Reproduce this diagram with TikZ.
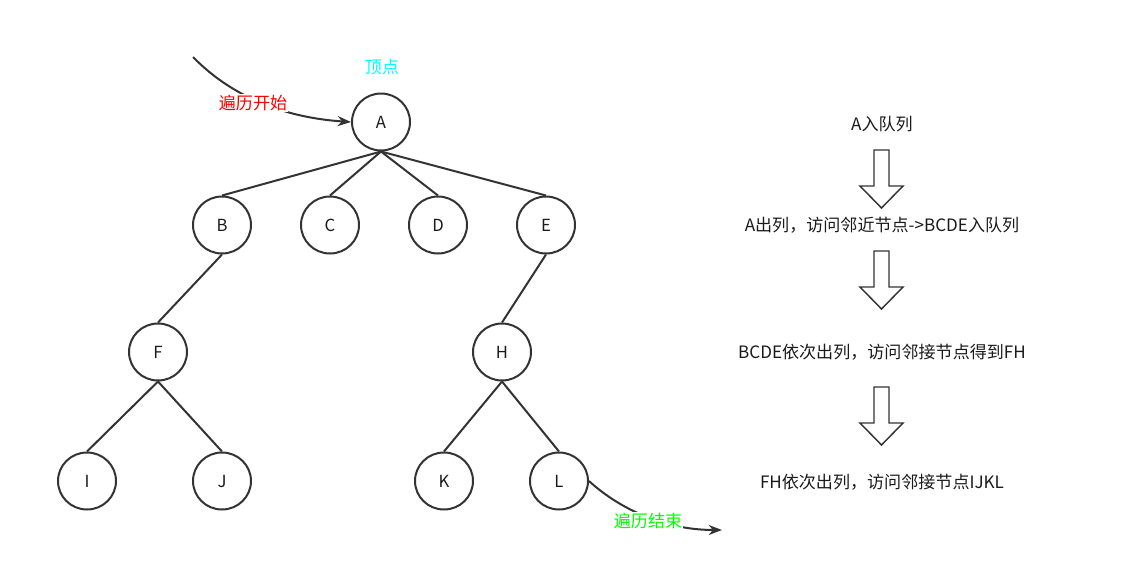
\documentclass[tikz,border=0pt]{standalone}
\usepackage{fontspec}
\setmainfont{Noto Sans CJK SC}
\usetikzlibrary{arrows.meta,shapes.geometric}
\definecolor{linec}{HTML}{333333}
\definecolor{txtc}{HTML}{1A1A1A}
\definecolor{cyanc}{HTML}{00FFFF}
\definecolor{redc}{HTML}{FF0000}
\definecolor{greenc}{HTML}{00FF00}
\begin{document}
\begin{tikzpicture}[x=0.75pt,y=-0.75pt,
  vert/.style={ellipse,draw=linec,line width=1.5pt,minimum width=43.5pt,minimum height=42.75pt,inner sep=0pt,font=\fontsize{12.5}{14}\selectfont,text=txtc},
  tree/.style={draw=linec,line width=1.5pt},
  lbl/.style={font=\fontsize{12.8}{15}\selectfont,text=txtc,inner sep=1pt},
  hollow/.style={draw=linec,line width=1.1pt,line join=miter,fill=white},
  flow/.style={draw=linec,line width=1.5pt,-{Stealth[length=10pt,width=7.5pt]}}]
\useasboundingbox (0,0) rectangle (1133,579);
% tree nodes
\node[vert] (A) at (381,122) {A};
\node[vert] (B) at (222,225) {B};
\node[vert] (C) at (330,225) {C};
\node[vert] (D) at (438,225) {D};
\node[vert] (E) at (546,225) {E};
\node[vert] (F) at (158,352) {F};
\node[vert] (H) at (502,352) {H};
\node[vert] (I) at (87,481) {I};
\node[vert] (J) at (222,481) {J};
\node[vert] (K) at (444,481) {K};
\node[vert] (L) at (559,481) {L};
% edges
\foreach \c in {B,C,D,E} \draw[tree] (A.south) -- (\c.north);
\draw[tree] (B.south) -- (F.north);
\draw[tree] (E.south) -- (H.north);
\draw[tree] (F.south) -- (I.north);
\draw[tree] (F.south) -- (J.north);
\draw[tree] (H.south) -- (K.north);
\draw[tree] (H.south) -- (L.north);
% labels
\node[lbl,text=cyanc] (top) at (382,67) {顶点};
\coordinate (s0) at (193,57);
\draw[flow] (s0) .. controls (235,100) and (290,118) .. (A.west);
\node[lbl,text=redc,fill=white] (start) at (253,103) {遍历开始};
\coordinate (e1) at (722,530);
\draw[flow] (L.east) .. controls (615,505) and (660,530) .. (e1);
\node[lbl,text=greenc,fill=white] (end) at (648,521) {遍历结束};
% right column
\node[lbl] (t1) at (882,124) {A入队列};
\node[lbl] (t2) at (882,225) {A出列，访问邻近节点->BCDE入队列};
\node[lbl] (t3) at (882,352) {BCDE依次出列，访问邻接节点得到FH};
\node[lbl] (t4) at (882,482) {FH依次出列，访问邻接节点IJKL};
\foreach \y in {150,251,387}{
  \draw[hollow] (874,\y) -- (889,\y) -- (889,\y+36) -- (903,\y+36) -- (881.5,\y+58) -- (860,\y+36) -- (874,\y+36) -- cycle;
}
\end{tikzpicture}
\end{document}
